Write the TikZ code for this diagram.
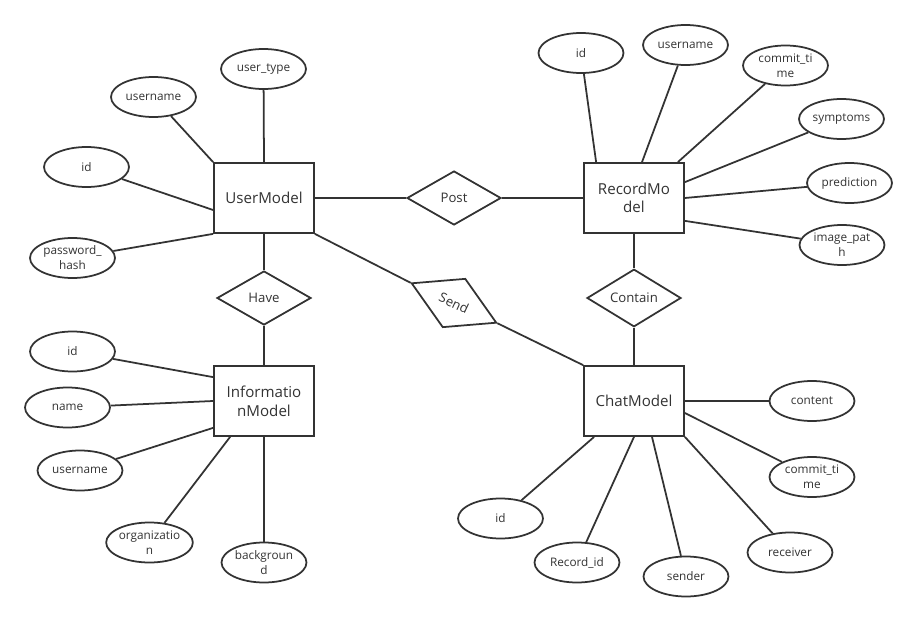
\documentclass[tikz,border=0pt]{standalone}
\usepackage{fontspec}
\setmainfont{Open Sans}
\usepackage{tikz}
\usetikzlibrary{shapes.geometric,calc}
\usepackage{xcolor}
\definecolor{erline}{HTML}{333333}

\tikzset{
    entity/.style={draw=erline, line width=1pt, minimum width=2cm, minimum height=1.4cm,
        inner sep=0pt, align=center, text=erline, font=\fontsize{8.6}{10.6}\selectfont},
    attr/.style={draw=erline, line width=1pt, ellipse, minimum width=1.7cm, minimum height=0.8cm,
        inner sep=0pt, align=center, text=erline, font=\fontsize{6.7}{8.5}\selectfont},
    rel/.style={draw=erline, line width=1pt, diamond, minimum width=1.88cm, minimum height=1.08cm,
        inner sep=0pt, text=erline, font=\fontsize{7.5}{9}\selectfont},
    link/.style={draw=erline, line width=1pt}
}

\begin{document}
\begin{tikzpicture}[x=0.02cm, y=-0.02cm]
    \fill[white] (0,0) rectangle (917,622);

    % Entitas
    \node[entity] (um) at (264,198) {UserModel};
    \node[entity] (rm) at (634,198) {RecordMo\\del};
    \node[entity] (im) at (264,401) {Informatio\\nModel};
    \node[entity] (cm) at (634,401) {ChatModel};

    % Relasi
    \node[rel] (post) at (454,198) {Post};
    \node[rel] (have) at (264,298) {Have};
    \node[rel] (contain) at (634,298) {Contain};
    \node[rel, rotate=-25] (send) at (454,303) {Send};

    % Atribut UserModel
    \node[attr] (u_type) at (263.5,69) {user\_type};
    \node[attr] (u_name) at (153.5,97) {username};
    \node[attr] (u_id) at (86.5,167) {id};
    \node[attr] (u_pwd) at (72.5,258) {password\_\\hash};

    % Atribut RecordModel
    \node[attr] (r_id) at (581,53) {id};
    \node[attr] (r_name) at (685.5,45) {username};
    \node[attr] (r_time) at (785.5,65.5) {commit\_ti\\me};
    \node[attr] (r_sym) at (841.5,119) {symptoms};
    \node[attr] (r_pred) at (849.5,183) {prediction};
    \node[attr] (r_img) at (842,245) {image\_pat\\h};

    % Atribut InformationModel
    \node[attr] (i_id) at (72.5,351.5) {id};
    \node[attr] (i_name) at (67.5,407.5) {name};
    \node[attr] (i_uname) at (80,470.5) {username};
    \node[attr] (i_org) at (149.5,542.5) {organizatio\\n};
    \node[attr] (i_bg) at (264,562.5) {backgroun\\d};

    % Atribut ChatModel
    \node[attr] (c_content) at (812,401) {content};
    \node[attr] (c_time) at (812,477) {commit\_ti\\me};
    \node[attr] (c_recv) at (790,552.5) {receiver};
    \node[attr] (c_send) at (686,576.5) {sender};
    \node[attr] (c_rid) at (577,562.5) {Record\_id};
    \node[attr] (c_id) at (500.5,518.5) {id};

    % Garis relasi
    \draw[link] (um.east) -- (post.west);
    \draw[link] (post.east) -- (rm.west);
    \draw[link] (um.south) -- (have.north);
    \draw[link] (have.south) -- (im.north);
    \draw[link] (um.south east) -- (send.west);
    \draw[link] (send.east) -- (cm.north west);
    \draw[link] (rm.south) -- (contain.north);
    \draw[link] (contain.south) -- (cm.north);

    % Garis atribut UserModel
    \draw[link] (um.north west) -- (u_name);
    \draw[link] (um.north) -- (u_type);
    \draw[link] ($(um.west)+(0,12)$) -- (u_id);
    \draw[link] (um.south west) -- (u_pwd);

    % Garis atribut RecordModel
    \draw[link] ($(rm.north west)+(13,0)$) -- (r_id);
    \draw[link] ($(rm.north)+(8,0)$) -- (r_name);
    \draw[link] ($(rm.north east)+(-7,0)$) -- (r_time);
    \draw[link] ($(rm.north east)+(0,20)$) -- (r_sym);
    \draw[link] (rm.east) -- (r_pred);
    \draw[link] ($(rm.south east)+(0,-13)$) -- (r_img);

    % Garis atribut InformationModel
    \draw[link] ($(im.north west)+(0,12)$) -- (i_id);
    \draw[link] (im.west) -- (i_name);
    \draw[link] ($(im.south west)+(0,-9)$) -- (i_uname);
    \draw[link] ($(im.south west)+(17,0)$) -- (i_org);
    \draw[link] (im.south) -- (i_bg);

    % Garis atribut ChatModel
    \draw[link] (cm.east) -- (c_content);
    \draw[link] ($(cm.east)+(0,12)$) -- (c_time);
    \draw[link] (cm.south east) -- (c_recv);
    \draw[link] ($(cm.south)+(18,0)$) -- (c_send);
    \draw[link] (cm.south) -- (c_rid);
    \draw[link] ($(cm.south west)+(11,0)$) -- (c_id);
\end{tikzpicture}
\end{document}
